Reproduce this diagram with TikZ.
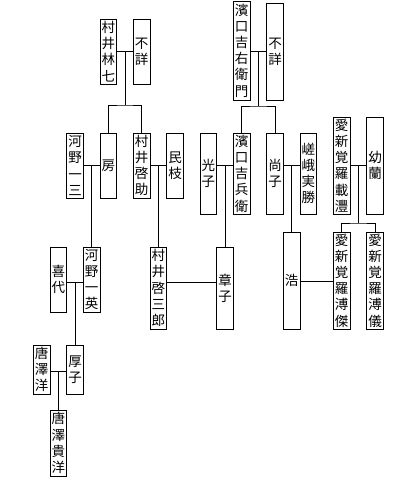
\documentclass[tikz,border=0pt]{standalone}
\usepackage{fontspec}
\newfontfamily\jp{Noto Sans CJK JP}
\begin{document}
\begin{tikzpicture}[x=1pt,y=-1pt,
  person/.style={draw, rectangle, inner sep=0pt, minimum width=16.67pt,
    align=center, font=\jp\fontsize{13.5}{16.2}\selectfont, line width=0.8pt},
  link/.style={line width=0.8pt}]
\useasboundingbox (0,0) rectangle (400,480);
% generation 1
\node[person, minimum height=65] (rin7) at (108.3,51.5) {村\\井\\林\\七};
\node[person, minimum height=65] (fushoA) at (141.7,51.5) {不\\詳};
\node[person, minimum height=99] (hamaU) at (241.7,50.5) {濱\\口\\吉\\右\\衛\\門};
\node[person, minimum height=97] (fushoB) at (275,51.5) {不\\詳};
% generation 2
\node[person, minimum height=65] (kono13) at (75,165.5) {河\\野\\一\\三};
\node[person, minimum height=65] (fusa) at (108.3,165.5) {房};
\node[person, minimum height=65] (keisuke) at (141.7,165.5) {村\\井\\啓\\助};
\node[person, minimum height=65] (tamie) at (175,165.5) {民\\枝};
\node[person, minimum height=81] (mitsuko) at (208.3,173.5) {光\\子};
\node[person, minimum height=81] (kichibe) at (241.7,173.5) {濱\\口\\吉\\兵\\衛};
\node[person, minimum height=81] (hisako) at (275,173.5) {尚\\子};
\node[person, minimum height=81] (saga) at (308.3,173.5) {嵯\\峨\\実\\勝};
\node[person, minimum height=97] (zaifeng) at (341.7,165.5) {愛\\新\\覚\\羅\\載\\灃};
\node[person, minimum height=97] (youran) at (375,165.5) {幼\\蘭};
% generation 3
\node[person, minimum height=65] (kiyo) at (58.3,279.5) {喜\\代};
\node[person, minimum height=65] (kazuhide) at (91.7,279.5) {河\\野\\一\\英};
\node[person, minimum height=82] (keizaburo) at (158.3,288) {村\\井\\啓\\三\\郎};
\node[person, minimum height=82] (akiko) at (225,288) {章\\子};
\node[person, minimum height=97] (hiro) at (291.7,280.5) {浩};
\node[person, minimum height=97] (pujie) at (341.7,280.5) {愛\\新\\覚\\羅\\溥\\傑};
\node[person, minimum height=97] (puyi) at (375,280.5) {愛\\新\\覚\\羅\\溥\\儀};
% generation 4
\node[person, minimum height=49] (karasawa) at (41.7,369.5) {唐\\澤\\洋};
\node[person, minimum height=49] (atsuko) at (75,369.5) {厚\\子};
% generation 5
\node[person, minimum height=66] (takahiro) at (58.3,443) {唐\\澤\\貴\\洋};

% marriage points
\coordinate (m1) at (125,51);
\coordinate (b1) at (125,105);
\coordinate (m2) at (258.3,51);
\coordinate (b2) at (258.3,106);
\coordinate (m3) at (91.7,165);
\coordinate (m4) at (158.3,165);
\coordinate (m5) at (225,165);
\coordinate (m6) at (291.7,165);
\coordinate (m7) at (358.3,165);
\coordinate (b7) at (358.3,223);
\coordinate (m8) at (75,282);
\coordinate (m9) at (191.7,282);
\coordinate (m10) at (316.7,281);
\coordinate (m11) at (58.3,371);

\draw[link] (rin7.east |- m1) -- (fushoA.west |- m1);
\draw[link] (m1) -- (b1);
\draw[link] (fusa.north) |- (b1) -| (keisuke.north);

\draw[link] (hamaU.east |- m2) -- (fushoB.west |- m2);
\draw[link] (m2) -- (b2);
\draw[link] (kichibe.north) |- (b2) -| (hisako.north);

\draw[link] (kono13.east |- m3) -- (fusa.west |- m3);
\draw[link] (m3) -- (kazuhide.north);
\draw[link] (keisuke.east |- m4) -- (tamie.west |- m4);
\draw[link] (m4) -- (keizaburo.north);
\draw[link] (mitsuko.east |- m5) -- (kichibe.west |- m5);
\draw[link] (m5) -- (akiko.north);
\draw[link] (hisako.east |- m6) -- (saga.west |- m6);
\draw[link] (m6) -- (hiro.north);
\draw[link] (zaifeng.east |- m7) -- (youran.west |- m7);
\draw[link] (m7) -- (b7);
\draw[link] (pujie.north) |- (b7) -| (puyi.north);

\draw[link] (kiyo.east |- m8) -- (kazuhide.west |- m8);
\draw[link] (m8) -- (atsuko.north);
\draw[link] (keizaburo.east |- m9) -- (akiko.west |- m9);
\draw[link] (hiro.east |- m10) -- (pujie.west |- m10);
\draw[link] (karasawa.east |- m11) -- (atsuko.west |- m11);
\draw[link] (m11) -- (takahiro.north);
\end{tikzpicture}
\end{document}
